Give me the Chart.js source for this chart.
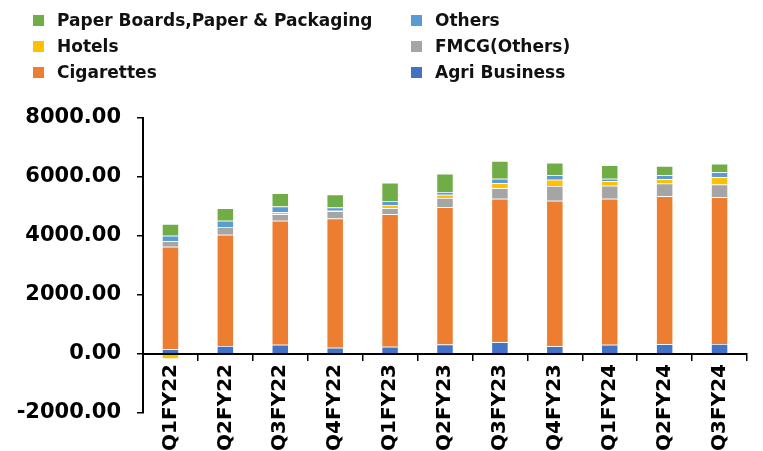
<!DOCTYPE html>
<html>
<head>
<meta charset="utf-8">
<script src="https://cdn.jsdelivr.net/npm/chart.js@4/dist/chart.umd.min.js"></script>
<style>
  body { margin: 0; background: #fff; }
  .wrap { position: relative; width: 763px; height: 451px; }
  .legend {
    position: absolute; left: 33px; top: 7px;
    display: grid; grid-template-rows: repeat(3, 26px); grid-template-columns: 378px auto;
    grid-auto-flow: column;
    font: bold 17px "DejaVu Sans", sans-serif; color: #111;
  }
  .legend div { display: flex; align-items: center; }
  .legend span { display: inline-block; width: 11px; height: 11px; margin-right: 13px; }
</style>
</head>
<body>
<div class="wrap">
  <canvas id="chart" width="763" height="451"></canvas>
  <div class="legend" id="legend"></div>
</div>
<script>
const labels = ["Q1FY22", "Q2FY22", "Q3FY22", "Q4FY22", "Q1FY23", "Q2FY23", "Q3FY23", "Q4FY23", "Q1FY24", "Q2FY24", "Q3FY24"];
const agriBusiness = [165, 270, 315, 210, 250, 320, 400, 260, 315, 333, 339];
const cigarettes = [3472, 3774, 4200, 4383, 4490, 4652, 4864, 4937, 4949, 5013, 4973];
const fmcgOthers = [183, 261, 226, 249, 197, 316, 356, 498, 441, 434, 434];
const hotels = [-170, -30, 68, 10, 118, 113, 166, 214, 149, 142, 247];
const others = [190, 214, 192, 113, 129, 90, 156, 149, 88, 136, 166];
const paperBoards = [397, 420, 452, 441, 620, 622, 600, 427, 454, 315, 292];
const yTicks = [-2000, 0, 2000, 4000, 6000, 8000];

// bottom of the stack first
const series = [
  { label: "Agri Business", data: agriBusiness, color: "#4472C4" },
  { label: "Cigarettes", data: cigarettes, color: "#ED7D31" },
  { label: "FMCG(Others)", data: fmcgOthers, color: "#A5A5A5" },
  { label: "Hotels", data: hotels, color: "#FFC000" },
  { label: "Others", data: others, color: "#5B9BD5" },
  { label: "Paper Boards,Paper & Packaging", data: paperBoards, color: "#70AD47" },
];
const legendOrder = ["Paper Boards,Paper & Packaging", "Hotels", "Cigarettes", "Others", "FMCG(Others)", "Agri Business"];

const legend = document.getElementById("legend");
legendOrder.forEach((name) => {
  const s = series.find((d) => d.label === name);
  const item = document.createElement("div");
  item.innerHTML = '<span style="background:' + s.color + '"></span>' + s.label;
  legend.appendChild(item);
});

const tickFont = { family: "'DejaVu Sans', sans-serif", size: 20, weight: "bold" };

new Chart(document.getElementById("chart"), {
  type: "bar",
  data: {
    labels: labels,
    datasets: series.map((s) => ({
      label: s.label,
      data: s.data,
      backgroundColor: s.color,
      borderColor: "rgba(255,255,255,0.5)",
      borderWidth: 0.75,
      categoryPercentage: 1,
      barPercentage: 0.31,
    })),
  },
  options: {
    responsive: false,
    animation: false,
    layout: { padding: { top: 118, right: 16, bottom: 38, left: 0 } },
    plugins: { legend: { display: false }, tooltip: { enabled: false } },
    scales: {
      x: {
        stacked: true,
        position: { y: 0 },
        afterFit: (s) => { s.height = 0; },
        grid: { drawOnChartArea: false, tickLength: 6, color: "#000", lineWidth: 1.5 },
        border: { color: "#000", width: 2 },
        ticks: {
          autoSkip: false, minRotation: 90, maxRotation: 90, padding: 4,
          color: "#000", font: tickFont,
        },
      },
      y: {
        stacked: true,
        min: -2000,
        max: 8000,
        afterFit: (s) => { s.width = 143; },
        afterBuildTicks: (s) => { s.ticks = yTicks.map((v) => ({ value: v })); },
        grid: { drawOnChartArea: false, tickLength: 6, color: "#000", lineWidth: 1.5 },
        border: { color: "#000", width: 2 },
        ticks: {
          padding: 16, color: "#000",
          font: { family: "'DejaVu Sans', sans-serif", size: 21, weight: "bold" },
          callback: (v) => Number(v).toFixed(2),
        },
      },
    },
  },
});
</script>
</body>
</html>
